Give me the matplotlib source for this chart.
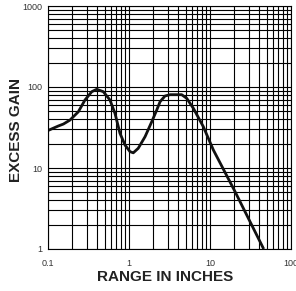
import matplotlib
matplotlib.use("Agg")
import matplotlib.pyplot as plt
from matplotlib.ticker import FixedLocator, NullFormatter, LogLocator
import numpy as np

# Data
range_in = [0.099, 0.134, 0.155, 0.187, 0.237, 0.286, 0.347, 0.399, 0.482, 0.582,
            0.671, 0.774, 0.893, 1.03, 1.13, 1.30, 1.58, 1.91, 2.20, 2.42,
            2.78, 3.21, 4.47, 5.16, 6.23, 8.27, 11.0, 20.4, 46.0]
excess_gain = [28.9, 33.0, 34.9, 39.1, 49.5, 69.1, 87.5, 93.7, 87.5, 69.1,
               47.3, 26.8, 19.2, 15.9, 15.4, 17.5, 24.4, 37.3, 52.0, 65.9,
               77.4, 80.4, 80.4, 72.5, 54.6, 32.4, 16.7, 5.1, 1.0]

x_ticks = [0.1, 1, 10, 100]
x_tick_labels = ["0.1", "1", "10", "100"]
y_ticks = [1, 10, 100, 1000]
y_tick_labels = ["1", "10", "100", "1000"]

plt.rcParams['font.family'] = ['Liberation Sans', 'DejaVu Sans']

fig = plt.figure(figsize=(2.96, 2.91), dpi=100)
ax = fig.add_axes([48/296, 1 - 249/291, 243/296, 243/291])

ax.set_xscale('log')
ax.set_yscale('log')
ax.set_xlim(0.1, 100)
ax.set_ylim(1, 1000)

ax.xaxis.set_major_locator(FixedLocator(x_ticks))
ax.yaxis.set_major_locator(FixedLocator(y_ticks))
ax.set_xticklabels(x_tick_labels)
ax.set_yticklabels(y_tick_labels)
ax.xaxis.set_minor_locator(LogLocator(base=10, subs=np.arange(2, 10)))
ax.yaxis.set_minor_locator(LogLocator(base=10, subs=np.arange(2, 10)))
ax.xaxis.set_minor_formatter(NullFormatter())
ax.yaxis.set_minor_formatter(NullFormatter())

ax.grid(True, which='both', color='black', linewidth=0.8)
ax.tick_params(which='both', length=0)
ax.tick_params(axis='x', pad=7, labelsize=6.5, labelcolor='#333333')
ax.tick_params(axis='y', pad=4, labelsize=6.5, labelcolor='#333333')
for s in ax.spines.values():
    s.set_color('black')
    s.set_linewidth(0.8)

ax.plot(range_in, excess_gain, color='#111111', linewidth=2.0,
        solid_joinstyle='round', solid_capstyle='butt')

fig.text(165/296, 1 - 277/291, "RANGE IN INCHES", ha='center', va='center',
         fontsize=11, fontweight='bold', color='#222222')
fig.text(16/296, 1 - 130/291, "EXCESS GAIN", ha='center', va='center',
         rotation=90, fontsize=11, fontweight='bold', color='#222222')

fig.savefig("out.png", dpi=100)
